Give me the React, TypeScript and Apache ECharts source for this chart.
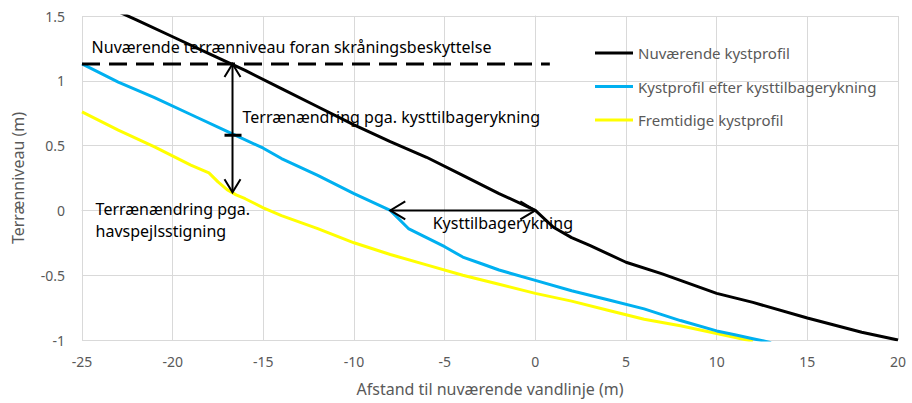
import React, { useEffect, useRef } from "react";
import * as echarts from "echarts";

// Profile data: distance from present waterline (m) and terrain level (m)
const currentX = [-25, -22, -20, -18, -16, -14, -12, -10, -8, -6, -4, -2, 0, 1, 2, 3, 5, 7, 10, 12, 15, 18, 20];
const currentY = [1.66, 1.47, 1.34, 1.21, 1.08, 0.94, 0.8, 0.66, 0.53, 0.41, 0.27, 0.13, 0, -0.13, -0.21, -0.27, -0.4, -0.49, -0.64, -0.71, -0.83, -0.94, -1.0];

const retreatX = [-25, -23, -21, -19, -17, -15, -14, -12, -10, -8, -7, -6, -5, -4, -3, -2, 0, 2, 4, 6, 8, 10, 11, 12, 13];
const retreatY = [1.13, 0.99, 0.87, 0.74, 0.61, 0.48, 0.4, 0.27, 0.13, 0, -0.14, -0.21, -0.28, -0.36, -0.41, -0.46, -0.54, -0.62, -0.69, -0.76, -0.85, -0.93, -0.96, -0.99, -1.02];

const futureX = [-25, -23, -21, -19, -18, -17.5, -17, -16.5, -16, -15, -14, -12, -10, -8, -6, -4, -2, 0, 2, 4, 6, 8, 10, 12];
const futureY = [0.76, 0.62, 0.49, 0.35, 0.29, 0.22, 0.16, 0.12, 0.09, 0.02, -0.04, -0.14, -0.25, -0.34, -0.42, -0.5, -0.57, -0.64, -0.7, -0.77, -0.84, -0.89, -0.95, -1.01];

const seriesNames = ["Nuværende kystprofil", "Kystprofil efter kysttilbagerykning", "Fremtidige kystprofil"];
const seriesColors = ["#000000", "#00B0F0", "#FFFF00"];

// Annotation geometry (data units)
const terrainLevel = 1.13;
const terrainLineEnd = 0.8;
const levelArrowX = -16.7;
const levelArrowBottom = 0.14;
const levelSplit = 0.58;
const retreatArrowFrom = -8;
const retreatArrowTo = 0;

const FONT = "'Noto Sans', sans-serif";

const pairs = (xs: number[], ys: number[]) => xs.map((x, i) => [x, ys[i]]);

export default function App() {
  const ref = useRef<HTMLDivElement>(null);

  useEffect(() => {
    if (!ref.current) return;
    const chart = echarts.init(ref.current, undefined, { renderer: "svg" });
    const datasets = [pairs(currentX, currentY), pairs(retreatX, retreatY), pairs(futureX, futureY)];

    chart.setOption({
      animation: false,
      backgroundColor: "#ffffff",
      grid: { left: 82, right: 14, top: 16, bottom: 63 },
      xAxis: {
        type: "value",
        min: -25,
        max: 20,
        interval: 5,
        axisLine: { show: true, lineStyle: { color: "#d9d9d9", width: 1 } },
        axisTick: { show: false },
        axisLabel: { color: "#595959", fontSize: 14, fontFamily: FONT, margin: 14 },
        splitLine: { show: true, lineStyle: { color: "#d9d9d9", width: 1 } },
      },
      yAxis: {
        type: "value",
        min: -1,
        max: 1.5,
        interval: 0.5,
        axisLine: { show: true, lineStyle: { color: "#d9d9d9", width: 1 } },
        axisTick: { show: false },
        axisLabel: { color: "#595959", fontSize: 14, fontFamily: FONT, margin: 17 },
        splitLine: { show: true, lineStyle: { color: "#d9d9d9", width: 1 } },
      },
      series: datasets.map((d, i) => ({
        name: seriesNames[i],
        type: "line",
        data: d,
        symbol: "none",
        showSymbol: false,
        clip: true,
        lineStyle: { color: seriesColors[i], width: 3 },
        itemStyle: { color: seriesColors[i] },
        z: 3 - i,
      })),
    });

    const px = (x: number, y: number) => chart.convertToPixel({ gridIndex: 0 }, [x, y]) as number[];

    const textStyle = (text: string, fontSize = 16, fill = "#000000") => ({
      text,
      fill,
      font: `${fontSize}px ${FONT}`,
      verticalAlign: "middle",
    });

    const arrowPen = { stroke: "#000000", lineWidth: 2, fill: null };

    const [dl0x, dl0y] = px(-25, terrainLevel);
    const [dl1x] = px(terrainLineEnd, terrainLevel);
    const [vax, vaTop] = px(levelArrowX, terrainLevel);
    const [, vaBottom] = px(levelArrowX, levelArrowBottom);
    const [, vaSplit] = px(levelArrowX, levelSplit);
    const [haLeft, haY] = px(retreatArrowFrom, 0);
    const [haRight] = px(retreatArrowTo, 0);

    const t1 = px(-24.47, 1.26);
    const t2 = px(-16.15, 0.72);
    const t3 = px(-24.25, 0.01);
    const t4 = px(-24.25, -0.16);
    const t5 = px(-5.66, -0.1);

    const headLen = 13;
    const headHalf = 8;

    // legend entries placed over the upper right of the plot
    const legendItems = seriesNames.flatMap((name, i) => {
      const y = 53 + i * 33.5;
      return [
        { type: "line", shape: { x1: 595, y1: y, x2: 633, y2: y }, style: { stroke: seriesColors[i], lineWidth: 3 }, z: 12 },
        { type: "text", x: 638, y, style: { text: name, fill: "#595959", font: `15px ${FONT}`, verticalAlign: "middle" }, z: 12 },
      ];
    });

    chart.setOption({
      graphic: [
        // terrain level in front of the revetment
        {
          type: "line",
          shape: { x1: dl0x, y1: dl0y, x2: dl1x, y2: dl0y },
          style: { stroke: "#000000", lineWidth: 3, lineDash: [18, 9] },
          z: 10,
        },
        // vertical double arrow with a split tick
        { type: "line", shape: { x1: vax, y1: vaTop, x2: vax, y2: vaBottom }, style: arrowPen, z: 10 },
        {
          type: "polyline",
          shape: { points: [[vax - headHalf, vaTop + headLen], [vax, vaTop], [vax + headHalf, vaTop + headLen]] },
          style: arrowPen,
          z: 10,
        },
        {
          type: "polyline",
          shape: { points: [[vax - headHalf, vaBottom - headLen], [vax, vaBottom], [vax + headHalf, vaBottom - headLen]] },
          style: arrowPen,
          z: 10,
        },
        {
          type: "line",
          shape: { x1: vax - 8, y1: vaSplit, x2: vax + 9, y2: vaSplit },
          style: { stroke: "#000000", lineWidth: 3 },
          z: 10,
        },
        // horizontal double arrow for coastal retreat
        { type: "line", shape: { x1: haLeft, y1: haY, x2: haRight, y2: haY }, style: arrowPen, z: 10 },
        {
          type: "polyline",
          shape: { points: [[haLeft + 15, haY - 9], [haLeft, haY], [haLeft + 15, haY + 9]] },
          style: arrowPen,
          z: 10,
        },
        {
          type: "polyline",
          shape: { points: [[haRight - 15, haY - 9], [haRight, haY], [haRight - 15, haY + 9]] },
          style: arrowPen,
          z: 10,
        },
        // annotation texts
        { type: "text", x: t1[0], y: t1[1], style: textStyle("Nuværende terrænniveau foran skråningsbeskyttelse"), z: 11 },
        { type: "text", x: t2[0], y: t2[1], style: textStyle("Terrænændring pga. kysttilbagerykning"), z: 11 },
        { type: "text", x: t3[0], y: t3[1], style: textStyle("Terrænændring pga."), z: 11 },
        { type: "text", x: t4[0], y: t4[1], style: textStyle("havspejlsstigning"), z: 11 },
        { type: "text", x: t5[0], y: t5[1], style: textStyle("Kysttilbagerykning"), z: 11 },
        ...legendItems,
        // axis titles
        {
          type: "text",
          x: 490,
          y: 389,
          style: { text: "Afstand til nuværende vandlinje (m)", fill: "#595959", font: `16px ${FONT}`, align: "center", verticalAlign: "middle" },
        },
        {
          type: "text",
          x: 18,
          y: 178,
          rotation: Math.PI / 2,
          style: { text: "Terrænniveau (m)", fill: "#595959", font: `16px ${FONT}`, align: "center", verticalAlign: "middle" },
        },
      ],
    });

    return () => chart.dispose();
  }, []);

  return <div ref={ref} style={{ position: "absolute", left: 0, top: 0, width: 912, height: 403 }} />;
}
